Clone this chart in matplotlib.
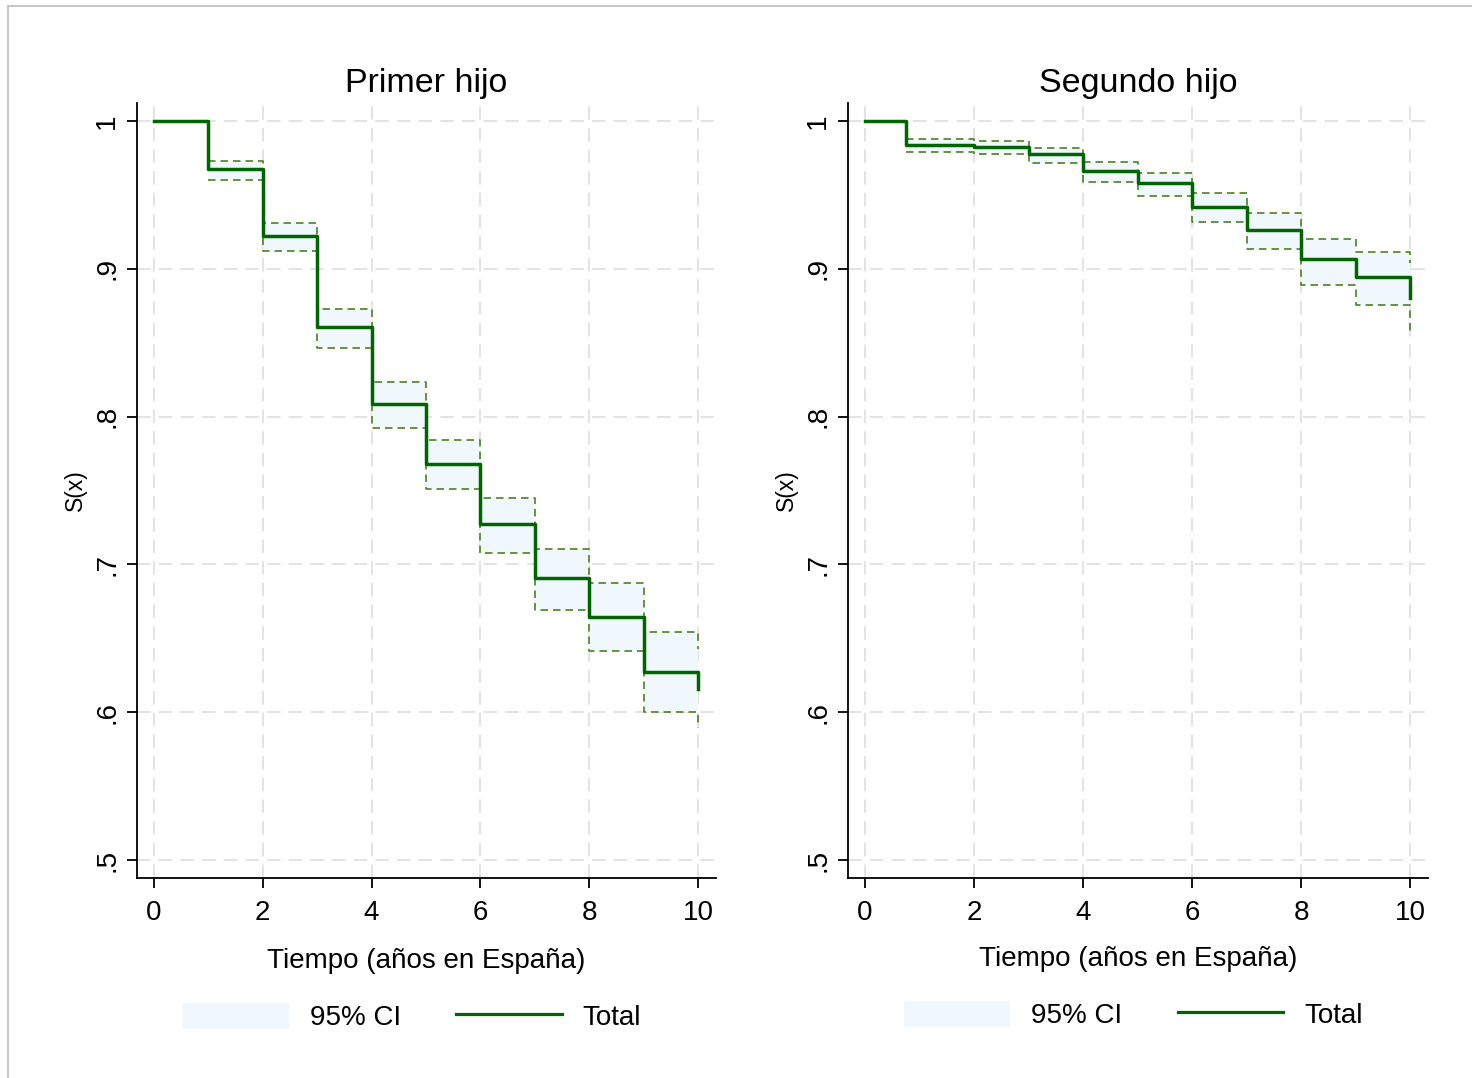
import matplotlib
matplotlib.use("Agg")
import matplotlib.pyplot as plt
from matplotlib.patches import Patch
from matplotlib.lines import Line2D
from matplotlib.ticker import FuncFormatter

plt.rcParams['font.family'] = ['Liberation Sans', 'DejaVu Sans']

# ---- data ----
titles = ["Primer hijo", "Segundo hijo"]
xlabel = "Tiempo (años en España)"
ylabel = "S(x)"
legend_labels = ["95% CI", "Total"]

x1 = [0, 1, 2, 3, 4, 5, 6, 7, 8, 9, 10]
s1 = [1.0, 0.9673, 0.9224, 0.8604, 0.8083, 0.7679, 0.7271, 0.6906, 0.6646, 0.6272, 0.6155]
ci_x1 = [1, 2, 3, 4, 5, 6, 7, 8, 9, 10]
up1 = [0.9729, 0.9308, 0.8726, 0.8232, 0.7842, 0.7447, 0.7104, 0.6877, 0.6545, 0.6430]
lo1 = [0.9600, 0.9120, 0.8466, 0.7925, 0.7510, 0.7077, 0.6691, 0.6414, 0.6003, 0.5890]

x2 = [0, 0.75, 2, 3, 4, 5, 6, 7, 8, 9, 10]
s2 = [1.0, 0.9838, 0.9824, 0.9780, 0.9664, 0.9578, 0.9420, 0.9263, 0.9064, 0.8947, 0.8800]
ci_x2 = [0.75, 2, 3, 4, 5, 6, 7, 8, 9, 10]
up2 = [0.9876, 0.9867, 0.9820, 0.9723, 0.9650, 0.9516, 0.9380, 0.9204, 0.9111, 0.9040]
lo2 = [0.9788, 0.9780, 0.9718, 0.9590, 0.9495, 0.9319, 0.9134, 0.8892, 0.8755, 0.8575]

xticks = [0, 2, 4, 6, 8, 10]
yticks = [0.5, 0.6, 0.7, 0.8, 0.9, 1.0]

main_color = '#006400'
ci_color = '#4E7F22'
fill_color = '#F0F8FD'
grid_color = '#E0E0E0'

W, H = 1472, 1078
fig = plt.figure(figsize=(W / 100, H / 100), dpi=100)

def fmt(v, pos):
    if abs(v - 1) < 1e-9:
        return "1"
    return ("%.1f" % v).lstrip("0")

panels = [
    (x1, s1, ci_x1, up1, lo1, 137, 716, 0.2800, 0.0566, 16),
    (x2, s2, ci_x2, up2, lo2, 848, 1428, 0.7700, 0.0584, 14),
]

for i, (x, s, cx, up, lo, left_px, right_px, lgx, lgy, lpad) in enumerate(panels):
    ax = fig.add_axes([left_px / W, 1 - 878 / H, (right_px - left_px) / W, (878 - 103) / H])
    ax.set_xlim(-0.3125, 10.33)
    ax.set_ylim(0.4878, 1.0122)
    for sp in ['top', 'right']:
        ax.spines[sp].set_visible(False)
    for sp in ['left', 'bottom']:
        ax.spines[sp].set_linewidth(1.3)
    ax.set_xticks(xticks)
    ax.set_yticks(yticks)
    ax.yaxis.set_major_formatter(FuncFormatter(fmt))
    ax.tick_params(axis='both', direction='out', length=7, width=1.3, labelsize=20, pad=9)
    ax.tick_params(axis='y', pad=5)
    for lab in ax.get_yticklabels():
        lab.set_rotation(90)
        lab.set_va('center')
    ax.grid(True, color=grid_color, linewidth=1.3, linestyle=(0, (7.5, 4.5)))
    ax.set_axisbelow(True)

    ax.fill_between(cx, lo, up, step='post', color=fill_color, linewidth=0, zorder=1)
    ax.plot(cx, up, drawstyle='steps-post', color=ci_color, linewidth=1.2,
            linestyle=(0, (4.5, 3)), zorder=2)
    ax.plot(cx, lo, drawstyle='steps-post', color=ci_color, linewidth=1.2,
            linestyle=(0, (4.5, 3)), zorder=2)
    ax.plot(x, s, drawstyle='steps-post', color=main_color, linewidth=2.5, zorder=3)

    ax.set_title(titles[i], fontsize=24.5, pad=8)
    ax.set_xlabel(xlabel, fontsize=20, labelpad=lpad)
    ax.set_ylabel(ylabel, fontsize=16.5, labelpad=5)

    handles = [Patch(facecolor=fill_color, edgecolor='none'),
               Line2D([0], [0], color=main_color, linewidth=2.3)]
    fig.legend(handles, legend_labels, loc='center', bbox_to_anchor=(lgx, lgy),
               ncol=2, frameon=False, fontsize=20, handlelength=3.8, handleheight=1.05,
               handletextpad=0.75, columnspacing=2.0)

# outer frame
fig.add_artist(Line2D([8 / W, 1.0], [1 - 6 / H, 1 - 6 / H], transform=fig.transFigure,
                      color='#C8C8C8', linewidth=1.5))
fig.add_artist(Line2D([8 / W, 8 / W], [0, 1 - 6 / H], transform=fig.transFigure,
                      color='#C8C8C8', linewidth=1.5))

fig.savefig("out.png", dpi=100, facecolor='white')
